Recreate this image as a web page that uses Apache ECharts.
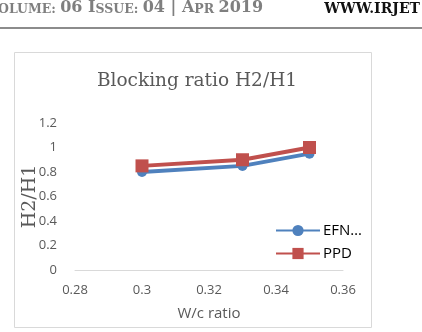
<!DOCTYPE html>
<html>
<head>
<meta charset="utf-8">
<script src="https://cdn.jsdelivr.net/npm/echarts@6/dist/echarts.min.js"></script>
<style>
  html, body { margin: 0; padding: 0; background: #fff; }
  #main { width: 422px; height: 332px; }
</style>
</head>
<body>
<div id="main"></div>
<script>
// data
var wcRatio = [0.3, 0.33, 0.35];
var efnValues = [0.8, 0.85, 0.95];
var ppdValues = [0.85, 0.9, 1.0];
var seriesNames = ['EFN…', 'PPD'];

function pairs(xs, ys) {
    return xs.map(function (x, i) { return [x, ys[i]]; });
}

var myChart = echarts.init(document.getElementById('main'));
option = {
    animation: false,
    textStyle: { fontFamily: 'Open Sans' },
    graphic: [
        // page header above the figure
        {
            type: 'text', left: -2, top: 0,
            style: {
                text: '{s|OLUME: }{b|06 I}{s|SSUE: }{b|04 | A}{s|PR }{b|2019}',
                rich: {
                    b: { fontFamily: 'DejaVu Serif', fontWeight: 'bold', fontSize: 16, fill: '#7f7f7f' },
                    s: { fontFamily: 'DejaVu Serif', fontWeight: 'bold', fontSize: 12.5, fill: '#7f7f7f', verticalAlign: 'bottom' }
                }
            }
        },
        {
            type: 'text', right: 2, top: 2,
            style: { text: 'WWW.IRJET', fontFamily: 'DejaVu Serif', fontWeight: 'bold', fontSize: 14, fill: '#111' }
        },
        {
            type: 'line', shape: { x1: 0, y1: 28, x2: 422, y2: 28 },
            style: { stroke: '#8c8c8c', lineWidth: 2 }
        },
        // chart frame
        {
            type: 'rect', shape: { x: 14.5, y: 52.5, width: 357, height: 275 },
            style: { fill: 'none', stroke: '#d9d9d9', lineWidth: 1 }
        }
    ],
    title: {
        text: 'Blocking ratio H2/H1',
        left: 192, top: 67, textAlign: 'center',
        textStyle: { fontFamily: 'DejaVu Serif', fontWeight: 'normal', fontSize: 18.5, color: '#595959' }
    },
    legend: {
        orient: 'vertical',
        left: 270, top: 218,
        itemWidth: 44, itemHeight: 14, itemGap: 8,
        textStyle: { fontFamily: 'Open Sans', fontSize: 15, color: '#000', padding: [0, 0, 0, -2] },
        data: seriesNames
    },
    grid: { left: 75, right: 79, top: 123, bottom: 62 },
    xAxis: {
        type: 'value',
        min: 0.28, max: 0.36, interval: 0.02,
        name: 'W/c ratio', nameLocation: 'middle', nameGap: 36, nameMoveOverlap: false,
        nameTextStyle: { fontSize: 15, color: '#595959' },
        axisLine: { show: true, lineStyle: { color: '#d9d9d9', width: 1 } },
        axisTick: { show: false },
        splitLine: { show: false },
        axisLabel: {
            color: '#595959', fontSize: 13, margin: 14,
            formatter: function (v) { return String(+v.toFixed(2)); }
        }
    },
    yAxis: {
        type: 'value',
        min: 0, max: 1.2, interval: 0.2,
        name: 'H2/H1', nameLocation: 'middle', nameGap: 45, nameRotate: 90, nameMoveOverlap: false,
        nameTextStyle: { fontFamily: 'DejaVu Serif', fontSize: 19, color: '#595959', verticalAlign: 'middle' },
        axisLine: { show: false },
        axisTick: { show: false },
        splitLine: { show: false },
        axisLabel: {
            color: '#595959', fontSize: 13, margin: 18,
            formatter: function (v) { return String(+v.toFixed(1)); }
        }
    },
    series: [
        {
            name: seriesNames[0], type: 'line',
            data: pairs(wcRatio, efnValues),
            symbol: 'circle', symbolSize: 10,
            lineStyle: { color: '#4F81BD', width: 4 },
            itemStyle: { color: '#4F81BD' }
        },
        {
            name: seriesNames[1], type: 'line',
            data: pairs(wcRatio, ppdValues),
            symbol: 'rect', symbolSize: 13,
            lineStyle: { color: '#C0504D', width: 4 },
            itemStyle: { color: '#C0504D' }
        }
    ]
};
myChart.setOption(option);
</script>
</body>
</html>
